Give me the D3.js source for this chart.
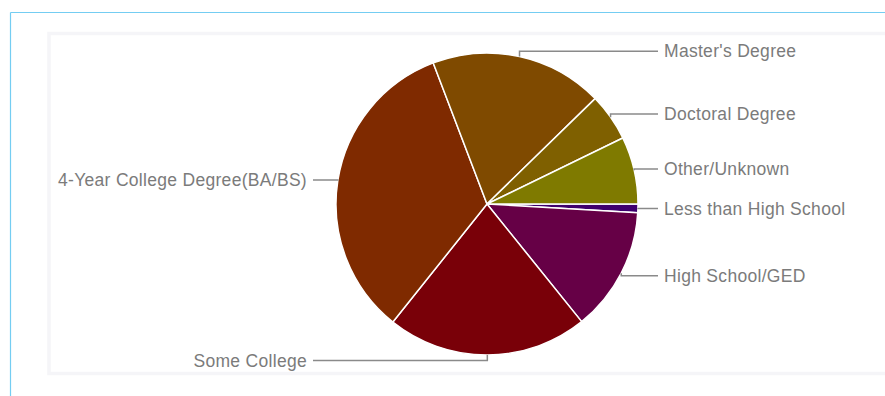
<!DOCTYPE html>
<html>
<head>
<meta charset="utf-8">
<script src="https://cdn.jsdelivr.net/npm/d3@7"></script>
<style>
  html, body { margin: 0; padding: 0; background: #ffffff; }
  svg { display: block; }
</style>
</head>
<body>
<svg id="chart" width="885" height="396"></svg>
<script>
// Education level breakdown (percent of respondents)
const categories = [
  "Less than High School",
  "High School/GED",
  "Some College",
  "4-Year College Degree(BA/BS)",
  "Master's Degree",
  "Doctoral Degree",
  "Other/Unknown"
];
const values = [0.92, 13.3, 21.5, 33.5, 18.5, 5.1, 7.2];
const colors = ["#3e006e", "#660046", "#790008", "#7f2a00", "#7f4a00", "#7f6000", "#7f7a00"];

const svg = d3.select("#chart");
const W = 885, H = 396;

// page frame: thin blue rule along top and left
svg.append("line").attr("x1", 10.5).attr("y1", 12.5).attr("x2", W).attr("y2", 12.5)
  .attr("stroke", "#74cdf2").attr("stroke-width", 1.2);
svg.append("line").attr("x1", 10.5).attr("y1", 12.5).attr("x2", 10.5).attr("y2", H)
  .attr("stroke", "#74cdf2").attr("stroke-width", 1.2);

// chart panel with a soft grey border
svg.append("rect").attr("x", 49).attr("y", 33.5).attr("width", W + 10).attr("height", 340)
  .attr("fill", "#ffffff").attr("stroke", "#f5f5f8").attr("stroke-width", 3.5);

const cx = 487, cy = 204, r = 151;
const labelR = r + 5.5;

const data = categories.map((c, i) => ({ name: c, value: values[i], color: colors[i] }));

const pie = d3.pie().value(d => d.value).sort(null)
  .startAngle(Math.PI / 2).endAngle(Math.PI / 2 + 2 * Math.PI);
const arcs = pie(data);
const arc = d3.arc().innerRadius(0).outerRadius(r);

const g = svg.append("g").attr("transform", `translate(${cx},${cy})`);

g.selectAll("path.slice").data(arcs).enter().append("path")
  .attr("class", "slice")
  .attr("d", arc)
  .attr("fill", d => d.data.color)
  .attr("stroke", "#ffffff")
  .attr("stroke-width", 1.5)
  .attr("stroke-linejoin", "round");

// leader lines and labels
const norm = a => ((a % (2 * Math.PI)) + 2 * Math.PI) % (2 * Math.PI);
const rightTextX = 177, rightLineX = 171;
const leftTextX = -180, leftLineX = -174;

arcs.forEach(d => {
  const mid = norm((d.startAngle + d.endAngle) / 2);
  const ax = r * Math.sin(mid), ay = -r * Math.cos(mid);
  const ly = -labelR * Math.cos(mid);
  // slices near the bottom go to the left column
  const right = Math.sin(mid) > 0.05;
  const endX = right ? rightLineX : leftLineX;
  g.append("path")
    .attr("d", d3.line()([[ax, ay], [ax, ly], [endX, ly]]))
    .attr("fill", "none")
    .attr("stroke", "#8a8a8a")
    .attr("stroke-width", 1.5);
  g.append("text")
    .attr("x", right ? rightTextX : leftTextX)
    .attr("y", ly)
    .attr("dy", "0.35em")
    .attr("text-anchor", right ? "start" : "end")
    .attr("font-family", "'Liberation Sans', Arial, Helvetica, sans-serif")
    .attr("font-size", "17.5px")
    .attr("letter-spacing", "0.3px")
    .attr("fill", "#7b7b7b")
    .text(d.data.name);
});
</script>
</body>
</html>
